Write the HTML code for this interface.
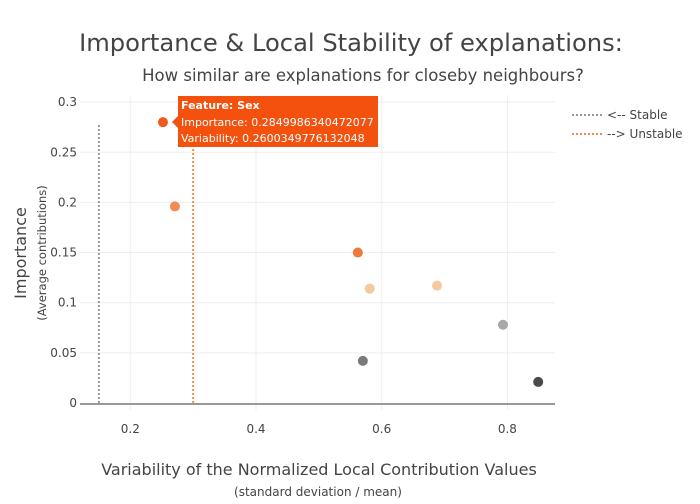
<!DOCTYPE html>
<html><head><meta charset="utf-8"><style>
body{margin:0;background:#fff;font-family:"DejaVu Sans","Liberation Sans",sans-serif}
svg text{font-family:"DejaVu Sans","Liberation Sans",sans-serif}
</style></head><body>
<svg id="chart" width="700" height="500">
<text x="351" y="51" text-anchor="middle" font-size="24.2" fill="#444">Importance &amp; Local Stability of explanations:</text>
<text x="363" y="81" text-anchor="middle" font-size="16.5" fill="#444">How similar are explanations for closeby neighbours?</text>
<g id="grid"></g><g id="axes"></g><g id="marks"></g>
<text x="319" y="475" text-anchor="middle" font-size="16" fill="#444">Variability of the Normalized Local Contribution Values</text>
<text x="318" y="496" text-anchor="middle" font-size="12" fill="#444">(standard deviation / mean)</text>
<text transform="translate(26,253) rotate(-90)" text-anchor="middle" font-size="16" fill="#444">Importance</text>
<text transform="translate(46,253) rotate(-90)" text-anchor="middle" font-size="11.5" fill="#444">(Average contributions)</text>
<g>
<line x1="572" y1="115" x2="602" y2="115" stroke="#999" stroke-width="2" stroke-dasharray="2,2"/>
<text x="607" y="119" font-size="12" fill="#444">&lt;-- Stable</text>
<line x1="572" y1="134" x2="602" y2="134" stroke="#f28c52" stroke-width="2" stroke-dasharray="2,2"/>
<text x="607" y="138" font-size="12" fill="#444">--&gt; Unstable</text>
</g>
<g>
<rect x="178" y="96" width="200" height="51" fill="#f4510f"/>
<polygon points="178,116 172,122 178,128" fill="#f4510f"/>
<text x="181" y="109" font-size="11" font-weight="bold" fill="#fff">Feature: Sex</text>
<text x="181" y="126" font-size="11" fill="#fff">Importance: 0.2849986340472077</text>
<text x="181" y="142" font-size="11" fill="#fff">Variability: 0.2600349776132048</text>
</g>
</svg>
<script>
const xVals=[0.252,0.271,0.562,0.581,0.688,0.793,0.570,0.849];
const yVals=[0.280,0.196,0.150,0.114,0.117,0.078,0.042,0.021];
const colors=["#ee5a1c","#f28c52","#ee7a3a","#f5c9a0","#f5c9a0","#a8a8a8","#7a7a7a","#4a4a4a"];
const xTicks=[0.2,0.4,0.6,0.8];
const yTicks=[0,0.05,0.1,0.15,0.2,0.25,0.3];
const yTickLabels=["0","0.05","0.1","0.15","0.2","0.25","0.3"];
const thresholds=[0.15,0.30];
const thresholdColors=["#999","#f28c52"];
const NS="http://www.w3.org/2000/svg";
const X=v=>4.6+v*628.5, Y=v=>403-v*1003;
function mk(t,a,p){const e=document.createElementNS(NS,t);for(const k in a)e.setAttribute(k,a[k]);p.appendChild(e);return e;}
const g=document.getElementById('grid'),ax=document.getElementById('axes'),m=document.getElementById('marks');
xTicks.forEach(t=>{const l=mk('line',{x1:X(t),x2:X(t),y1:95,y2:410,stroke:'#eee'},g);


const tx=mk('text',{x:X(t),y:433,'text-anchor':'middle','font-size':12,fill:'#444'},ax);tx.textContent=t;

});
yTicks.forEach((t,i)=>{if(t>0){const l=mk('line',{x1:80,x2:555,y1:Y(t),y2:Y(t),stroke:'#eee'},g);

}
const tx=mk('text',{x:77,y:Y(t)+4,'text-anchor':'end','font-size':12,fill:'#444'},ax);tx.textContent=yTickLabels[i];

});
const z=mk('line',{x1:80,x2:555,y1:Y(0)+1,y2:Y(0)+1,stroke:'#999','stroke-width':2},ax);


thresholds.forEach((t,i)=>{const l=mk('line',{x1:X(t),x2:X(t),y1:125,y2:Y(0),stroke:thresholdColors[i],'stroke-width':2,'stroke-dasharray':'2,2'},m);

});
xVals.forEach((v,i)=>{const c=mk('circle',{cx:X(v),cy:Y(yVals[i]),r:5,fill:colors[i]},m);

});
</script>
</body></html>
